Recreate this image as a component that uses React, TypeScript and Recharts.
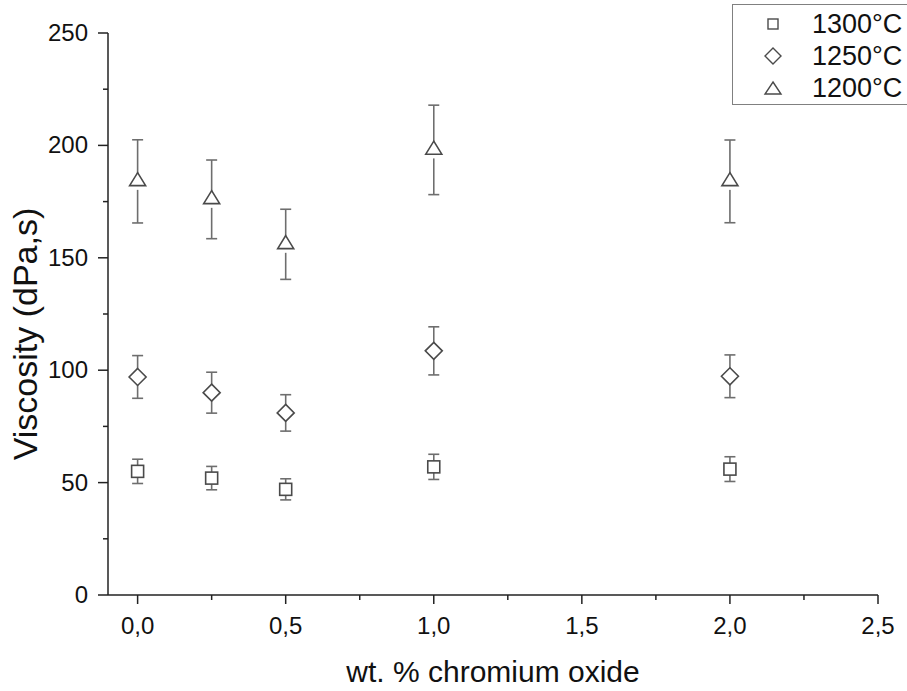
import { ScatterChart, Scatter, XAxis, YAxis, ErrorBar, Legend, Label } from 'recharts'

// wt. % chromium oxide
const chromium = [0, 0.25, 0.5, 1.0, 2.0]

// viscosity (dPa,s) and error per temperature
const visc1300 = [55, 52, 47, 57, 56]
const err1300 = [5.4, 5.2, 4.7, 5.6, 5.5]
const visc1250 = [97, 90, 81, 108.6, 97.3]
const err1250 = [9.5, 9.1, 8.1, 10.7, 9.5]
const visc1200 = [184, 176, 156, 198, 184]
const err1200 = [18.5, 17.5, 15.6, 19.9, 18.4]

const seriesNames = ['1300°C', '1250°C', '1200°C']

const xTicks = [0, 0.25, 0.5, 0.75, 1, 1.25, 1.5, 1.75, 2, 2.25, 2.5]
const yTicks = [0, 25, 50, 75, 100, 125, 150, 175, 200, 225, 250]

const FONT = '"Liberation Sans", Arial, sans-serif'
const MARK = '#4a4a4a'
const BAR = '#6e6e6e'

const toRows = (vals: number[], errs: number[]) =>
  chromium.map((x, i) => ({ x, y: vals[i], err: errs[i] }))

const data1300 = toRows(visc1300, err1300)
const data1250 = toRows(visc1250, err1250)
const data1200 = toRows(visc1200, err1200)

const Square = (props: any) => {
  const { cx, cy } = props
  return <rect x={cx - 6} y={cy - 6} width={12} height={12} fill="#fff" stroke={MARK} strokeWidth={1.6} />
}

const Diamond = (props: any) => {
  const { cx, cy } = props
  const r = 8.5
  return (
    <polygon
      points={`${cx},${cy - r} ${cx + r},${cy} ${cx},${cy + r} ${cx - r},${cy}`}
      fill="#fff"
      stroke={MARK}
      strokeWidth={1.6}
    />
  )
}

const Triangle = (props: any) => {
  const { cx, cy } = props
  return (
    <g>
      {/* small gap under the base, like the original plot */}
      <rect x={cx - 2} y={cy + 4} width={4} height={4.5} fill="#fff" />
      <polygon
        points={`${cx},${cy - 8.7} ${cx + 8},${cy + 4.3} ${cx - 8},${cy + 4.3}`}
        fill="#fff"
        stroke={MARK}
        strokeWidth={1.6}
      />
    </g>
  )
}

const legendIcon = (name: string) => {
  if (name === '1300°C') return <rect x={5} y={5} width={10} height={10} fill="none" stroke={MARK} strokeWidth={1.4} />
  if (name === '1250°C') return <polygon points="10,2 18,10 10,18 2,10" fill="none" stroke={MARK} strokeWidth={1.4} />
  return <polygon points="10,4 18,16 2,16" fill="none" stroke={MARK} strokeWidth={1.4} />
}

const renderLegend = (props: any) => {
  const items = [...(props.payload || [])].sort(
    (a: any, b: any) => seriesNames.indexOf(a.value) - seriesNames.indexOf(b.value)
  )
  return (
    <div
      style={{
        border: '1.5px solid #808080',
        width: 200,
        height: 101,
        paddingTop: 3,
        boxSizing: 'border-box',
        background: '#fff',
      }}
    >
      {items.map((it: any) => (
        <div key={it.value} style={{ display: 'flex', alignItems: 'center', height: 32 }}>
          <svg width={20} height={20} style={{ marginLeft: 30 }}>
            {legendIcon(it.value)}
          </svg>
          <span style={{ marginLeft: 29, fontFamily: FONT, fontSize: 27, color: '#111', lineHeight: '32px' }}>
            {it.value}
          </span>
        </div>
      ))}
    </div>
  )
}

const XTick = (props: any) => {
  const { x, y, payload } = props
  const v = payload.value
  const major = Math.abs(v * 2 - Math.round(v * 2)) < 1e-6
  return (
    <g>
      <line x1={x} y1={y} x2={x} y2={y + (major ? 9 : 5)} stroke="#222" strokeWidth={1.5} />
      {major && (
        <text x={x} y={y + 39} textAnchor="middle" fontFamily={FONT} fontSize={24} fill="#111">
          {v.toFixed(1).replace('.', ',')}
        </text>
      )}
    </g>
  )
}

const YTick = (props: any) => {
  const { x, y, payload } = props
  const v = payload.value
  const major = v % 50 === 0
  return (
    <g>
      <line x1={x} y1={y} x2={x - (major ? 10 : 5)} y2={y} stroke="#222" strokeWidth={1.5} />
      {major && (
        <text x={x - 20} y={y + 8} textAnchor="end" fontFamily={FONT} fontSize={24} fill="#111">
          {v}
        </text>
      )}
    </g>
  )
}

const XTitle = (props: any) => {
  const { x, y, width } = props.viewBox
  return (
    <text x={x + width / 2} y={y + 87} textAnchor="middle" fontFamily={FONT} fontSize={30} fill="#111">
      wt. % chromium oxide
    </text>
  )
}

const YTitle = (props: any) => {
  const { y, height } = props.viewBox
  const cy = y + height / 2 + 20
  return (
    <text
      x={37}
      y={cy}
      transform={`rotate(-90, 37, ${cy})`}
      textAnchor="middle"
      fontFamily={FONT}
      fontSize={34}
      fill="#111"
    >
      Viscosity (dPa,s)
    </text>
  )
}

export default function App() {
  return (
    <div style={{ position: 'absolute', left: 0, top: 0, width: 907, height: 691, overflow: 'hidden', background: '#fff' }}>
      <ScatterChart width={907} height={691} margin={{ top: 33, right: 29, bottom: 0, left: 0 }}>
        <XAxis
          type="number"
          dataKey="x"
          domain={[-0.1, 2.5]}
          ticks={xTicks}
          allowDataOverflow
          height={96}
          tickSize={0}
          tickMargin={0}
          tickLine={false}
          tick={<XTick />}
          interval={0}
          axisLine={{ stroke: '#222', strokeWidth: 1.5 }}
        >
          <Label content={<XTitle />} />
        </XAxis>
        <YAxis
          type="number"
          dataKey="y"
          domain={[0, 250]}
          ticks={yTicks}
          allowDataOverflow
          width={108}
          tickSize={0}
          tickMargin={0}
          tickLine={false}
          tick={<YTick />}
          interval={0}
          axisLine={{ stroke: '#222', strokeWidth: 1.5 }}
        >
          <Label content={<YTitle />} />
        </YAxis>
        <Legend
          content={renderLegend}
          layout="vertical"
          align="center"
          verticalAlign="middle"
          wrapperStyle={{ left: 732, top: 4, width: 200 }}
        />
        <Scatter name={seriesNames[0]} data={data1300} shape={<Square />} isAnimationActive={false}>
          <ErrorBar dataKey="err" direction="y" width={5.5} stroke={BAR} strokeWidth={1.6} />
        </Scatter>
        <Scatter name={seriesNames[1]} data={data1250} shape={<Diamond />} isAnimationActive={false}>
          <ErrorBar dataKey="err" direction="y" width={5.5} stroke={BAR} strokeWidth={1.6} />
        </Scatter>
        <Scatter name={seriesNames[2]} data={data1200} shape={<Triangle />} isAnimationActive={false}>
          <ErrorBar dataKey="err" direction="y" width={5.5} stroke={BAR} strokeWidth={1.6} />
        </Scatter>
      </ScatterChart>
    </div>
  )
}
